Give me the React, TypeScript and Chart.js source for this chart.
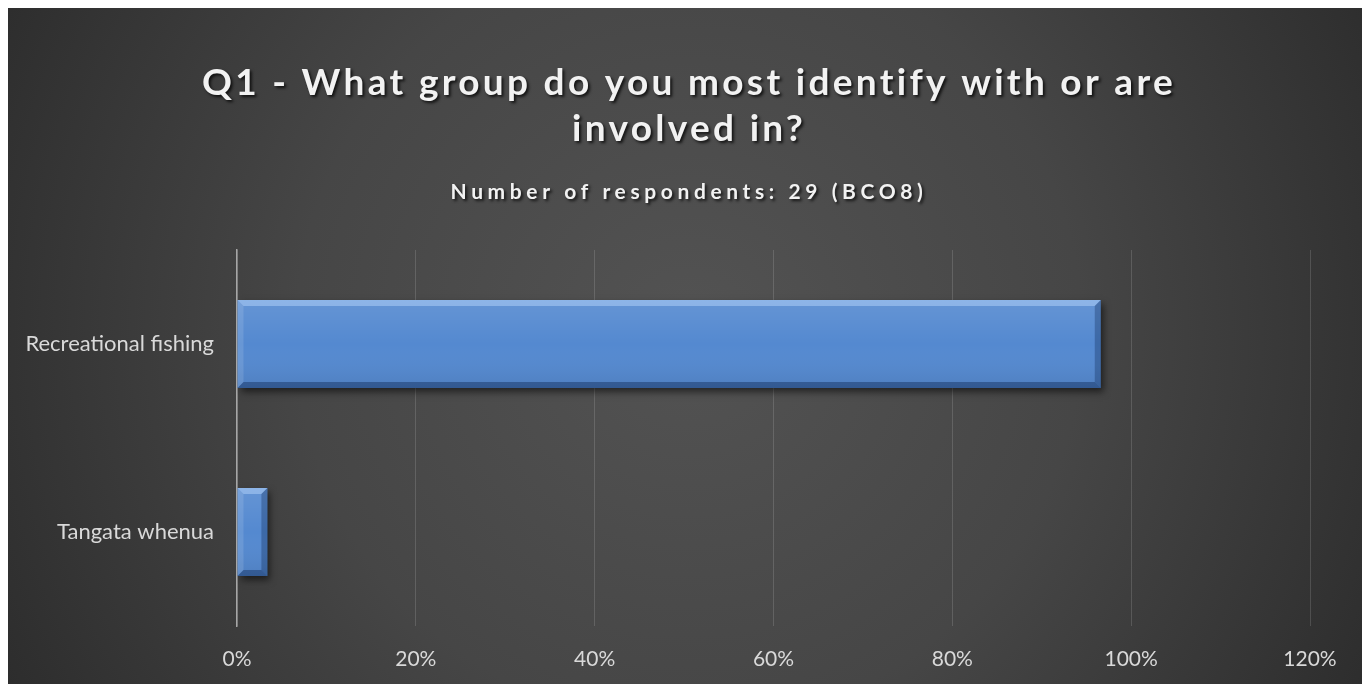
import React, { useEffect, useRef } from "react";
import { Chart, registerables } from "chart.js";

Chart.register(...registerables);

const categories = ["Recreational fishing", "Tangata whenua"];
const shareValues = [96.6, 3.4];
const xTickValues = [0, 20, 40, 60, 80, 100, 120];
const titleLines = ["Q1 - What group do you most identify with or are", "involved in?"];
const subtitleText = "Number of respondents: 29 (BCO8)";

const FONT = "Lato";

const bgPlugin = {
  id: "bgGradient",
  beforeDraw(chart: any) {
    const { ctx, width, height } = chart;
    ctx.save();
    const cx = width * 0.5;
    const cy = height * 0.48;
    const g = ctx.createRadialGradient(cx, cy, 0, cx, cy, width * 0.64);
    g.addColorStop(0, "#535353");
    g.addColorStop(0.45, "#464646");
    g.addColorStop(1, "#262626");
    ctx.fillStyle = g;
    ctx.fillRect(0, 0, width, height);
    ctx.restore();
  },
};

const titlePlugin = {
  id: "titlesSpaced",
  afterDraw(chart: any) {
    const ctx = chart.ctx;
    const cx = chart.width / 2;
    ctx.save();
    ctx.textAlign = "center";
    ctx.textBaseline = "alphabetic";
    ctx.fillStyle = "#f2f2f2";
    ctx.shadowColor = "rgba(0,0,0,0.75)";
    ctx.shadowOffsetX = 2;
    ctx.shadowOffsetY = 2;
    ctx.shadowBlur = 3;
    (ctx as any).letterSpacing = "3.3px";
    ctx.font = `bold 37px ${FONT}`;
    titleLines.forEach((line, i) => ctx.fillText(line, cx, 87 + i * 46));
    (ctx as any).letterSpacing = "4.6px";
    ctx.font = `bold 21px ${FONT}`;
    ctx.fillText(subtitleText, cx, 191);
    ctx.restore();
  },
};

const bevelPlugin = {
  id: "bevelBars",
  beforeDatasetsDraw(chart: any) {
    const ctx = chart.ctx;
    ctx.save();
    ctx.shadowColor = "rgba(0,0,0,0.55)";
    ctx.shadowOffsetX = 3;
    ctx.shadowOffsetY = 4;
    ctx.shadowBlur = 7;
  },
  afterDatasetsDraw(chart: any) {
    const ctx = chart.ctx;
    ctx.restore();
    const meta = chart.getDatasetMeta(0);
    ctx.save();
    meta.data.forEach((bar: any) => {
      const left = Math.min(bar.base, bar.x);
      const right = Math.max(bar.base, bar.x);
      const top = bar.y - bar.height / 2;
      const bottom = bar.y + bar.height / 2;
      const b = Math.min(6, (right - left) / 3);
      const g = ctx.createLinearGradient(0, top, 0, bottom);
      g.addColorStop(0, "rgba(255,255,255,0.10)");
      g.addColorStop(0.5, "rgba(255,255,255,0.0)");
      g.addColorStop(1, "rgba(0,0,0,0.08)");
      ctx.fillStyle = g;
      ctx.fillRect(left, top, right - left, bottom - top);
      const poly = (pts: number[][], color: string) => {
        ctx.beginPath();
        ctx.moveTo(pts[0][0], pts[0][1]);
        for (let i = 1; i < pts.length; i++) ctx.lineTo(pts[i][0], pts[i][1]);
        ctx.closePath();
        ctx.fillStyle = color;
        ctx.fill();
      };
      poly([[left, top], [right, top], [right - b, top + b], [left + b, top + b]], "rgba(190,220,255,0.45)");
      poly([[left, bottom], [right, bottom], [right - b, bottom - b], [left + b, bottom - b]], "rgba(0,20,60,0.35)");
      poly([[left, top], [left + b, top + b], [left + b, bottom - b], [left, bottom]], "rgba(255,255,255,0.12)");
      poly([[right, top], [right - b, top + b], [right - b, bottom - b], [right, bottom]], "rgba(0,20,60,0.28)");
    });
    ctx.restore();
  },
};

export default function App() {
  const canvasRef = useRef<HTMLCanvasElement | null>(null);

  useEffect(() => {
    document.body.style.overflow = "hidden";
    const canvas = canvasRef.current;
    if (!canvas) return;
    const chart = new Chart(canvas, {
      type: "bar",
      data: {
        labels: categories,
        datasets: [
          {
            data: shareValues,
            backgroundColor: "#5489d0",
            borderWidth: 0,
            barPercentage: 0.468,
            categoryPercentage: 1,
          },
        ],
      },
      options: {
        indexAxis: "y",
        responsive: false,
        animation: false,
        layout: { padding: { top: 242, right: 60, left: 0, bottom: 0 } },
        plugins: {
          legend: { display: false },
          title: { display: false },
          tooltip: { enabled: false },
        },
        scales: {
          x: {
            min: 0,
            max: 120,
            afterBuildTicks: (scale: any) => {
              scale.ticks = xTickValues.map((v) => ({ value: v }));
            },
            ticks: {
              callback: (v: any) => `${v}%`,
              color: "#d9d9d9",
              font: { family: FONT, size: 21 },
              padding: 21,
              maxRotation: 0,
            },
            grid: { color: "rgba(255,255,255,0.14)", lineWidth: 1, drawTicks: false },
            border: { display: false },
            afterFit: (scale: any) => {
              scale.height = 58;
            },
          },
          y: {
            ticks: {
              color: "#d9d9d9",
              font: { family: FONT, size: 22 },
              padding: 23,
            },
            grid: { display: false, drawTicks: false },
            border: { display: true, color: "#a6a6a6", width: 1.5 },
            afterFit: (scale: any) => {
              scale.width = 229;
            },
          },
        },
      },
      plugins: [bgPlugin, bevelPlugin, titlePlugin],
    });
    return () => chart.destroy();
  }, []);

  return (
    <div style={{ width: 1362, height: 676 }}>
      <canvas ref={canvasRef} width={1362} height={676} style={{ display: "block" }} />
    </div>
  );
}
